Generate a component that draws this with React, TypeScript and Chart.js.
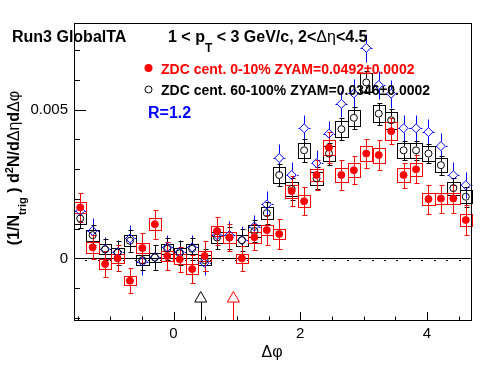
import React, { useEffect, useRef } from 'react';
import { Chart, registerables } from 'chart.js';

Chart.register(...registerables);

// Δφ bin centres (32 bins from -π/2 to 3π/2)
const DPHI = [
  -1.4726, -1.2763, -1.0799, -0.8836, -0.6872, -0.4909, -0.2945, -0.0982,
  0.0982, 0.2945, 0.4909, 0.6872, 0.8836, 1.0799, 1.2763, 1.4726,
  1.669, 1.8653, 2.0617, 2.258, 2.4544, 2.6507, 2.8471, 3.0434,
  3.2398, 3.4361, 3.6325, 3.8288, 4.0252, 4.2215, 4.4179, 4.6142,
];

// ZDC cent. 0-10% (red)
const RED = [
  0.00171, 0.00037, -0.00019, 0.0, -0.00075, 0.00035, 0.00115, 0.00008,
  -0.00003, -0.00036, 0.00008, 0.00092, 0.0007, 0.0, 0.00071, 0.00095,
  0.00082, 0.00226, 0.00192, 0.0028, 0.00372, 0.0028, 0.00296, 0.00352,
  0.00347, 0.00427, 0.0028, 0.00299, 0.00199, 0.00201, 0.00201, 0.00129,
];
const RED_STAT = [
  0.00049, 0.0004, 0.00044, 0.00044, 0.00042, 0.0005, 0.00049, 0.00047,
  0.00042, 0.00047, 0.0005, 0.00047, 0.00045, 0.00042, 0.00044, 0.00049,
  0.00049, 0.0005, 0.00047, 0.0005, 0.00051, 0.0005, 0.00047, 0.0005,
  0.0005, 0.00044, 0.00042, 0.00047, 0.00049, 0.00047, 0.00047, 0.0005,
];
const RED_SYST = [
  0.0002, 0.00018, 0.00017, 0.00016, 0.00016, 0.00017, 0.00019, 0.00016,
  0.00016, 0.00017, 0.00016, 0.00018, 0.00018, 0.00016, 0.00018, 0.00018,
  0.00018, 0.00022, 0.00021, 0.0002, 0.00026, 0.00022, 0.00023, 0.00025,
  0.00025, 0.0003, 0.00022, 0.00023, 0.0002, 0.0002, 0.0002, 0.00019,
];

// ZDC cent. 60-100% (black)
const BLACK = [
  0.00134, 0.00078, 0.0003, 0.00019, 0.00059, -0.00006, 0.00003, 0.00032,
  0.00017, 0.00032, -0.00006, 0.0007, 0.0007, 0.00061, 0.00092, 0.00152,
  0.0028, 0.00233, 0.00363, 0.00269, 0.00352, 0.00434, 0.00472, 0.00591,
  0.00486, 0.00464, 0.00363, 0.00363, 0.00352, 0.00313, 0.00236, 0.00207,
];
const BLACK_STAT = [
  0.00032, 0.00034, 0.00034, 0.0004, 0.00037, 0.00034, 0.00042, 0.00037,
  0.0004, 0.00037, 0.00037, 0.0004, 0.00037, 0.00037, 0.00037, 0.00037,
  0.00037, 0.00037, 0.00039, 0.00037, 0.00037, 0.00037, 0.00037, 0.00037,
  0.00037, 0.00037, 0.00032, 0.00032, 0.00032, 0.00032, 0.00034, 0.00034,
];
const BLACK_SYST = [
  0.0002, 0.00018, 0.00017, 0.00017, 0.00018, 0.00016, 0.00016, 0.00017,
  0.00017, 0.00017, 0.00016, 0.00018, 0.00018, 0.00018, 0.00019, 0.0002,
  0.00027, 0.00022, 0.00025, 0.00022, 0.00025, 0.00028, 0.00028, 0.00032,
  0.00028, 0.00028, 0.00025, 0.00025, 0.00025, 0.00024, 0.00022, 0.00021,
];

// R=1.2 (blue)
const BLUE = [
  0.00159, 0.00092, 0.00031, 0.00021, 0.00067, -0.00011, 0.00004, 0.00037,
  0.00021, 0.00037, -0.00015, 0.00078, 0.00078, 0.00061, 0.00107, 0.00181,
  0.00337, 0.0028, 0.00437, 0.0032, 0.00419, 0.00519, 0.00554, 0.00707,
  0.00582, 0.00553, 0.00437, 0.00437, 0.00424, 0.00377, 0.00279, 0.00246,
];
const BLUE_STAT = [
  0.0004, 0.00044, 0.0004, 0.0004, 0.00044, 0.00044, 0.00042, 0.0004,
  0.00042, 0.0004, 0.0004, 0.00044, 0.00047, 0.00047, 0.0004, 0.00044,
  0.00047, 0.00044, 0.00045, 0.00044, 0.00044, 0.00044, 0.00047, 0.00047,
  0.00047, 0.00047, 0.00044, 0.00044, 0.00044, 0.00044, 0.00044, 0.00044,
];

// minimum markers (triangles)
const MIN_BLACK_X = [0.43];
const MIN_RED_X = [0.945];
const MIN_Y = [-0.00135];

const X_TICKS = [0, 2, 4];
const Y_TICKS = [0, 0.005];
const Y_TICK_LABELS = ['0', '0.005'];

const X_MIN = -Math.PI / 2;
const X_MAX = (3 * Math.PI) / 2;
const Y_MIN = -0.002104;
const Y_MAX = 0.007906;
const BIN_HALF = Math.PI / 32;

const FONT = "'Liberation Sans', Arial, Helvetica, sans-serif";
const RED_C = '#ff0000';
const BLUE_C = '#0000ff';

function ln(ctx: CanvasRenderingContext2D, x1: number, y1: number, x2: number, y2: number) {
  ctx.beginPath();
  ctx.moveTo(x1, y1);
  ctx.lineTo(x2, y2);
  ctx.stroke();
}

const rootPlugin = {
  id: 'rootStyle',
  beforeDatasetsDraw(chart: any) {
    const { ctx, chartArea: a } = chart;
    const x = chart.scales.x;
    const y = chart.scales.y;
    ctx.save();
    ctx.lineWidth = 1;

    // zero line
    const y0 = Math.round(y.getPixelForValue(0)) + 0.5;
    ctx.strokeStyle = '#000';
    ln(ctx, a.left, y0, a.right, y0);
    ctx.fillStyle = '#000';
    for (let k = 1; k < 32; k++) {
      const xe = Math.round(x.getPixelForValue(X_MIN + k * 2 * BIN_HALF));
      ctx.fillRect(xe - 1, Math.round(y0) + 1, 2, 1);
    }

    const errs = (vals: number[], st: number[], color: string, r: number, cap: number, hbar: number) => {
      ctx.strokeStyle = color;
      for (let i = 0; i < vals.length; i++) {
        const px = x.getPixelForValue(DPHI[i]);
        const py = y.getPixelForValue(vals[i]);
        const top = Math.round(y.getPixelForValue(vals[i] + st[i])) + 0.5;
        const bot = Math.round(y.getPixelForValue(vals[i] - st[i])) + 0.5;
        const xx = Math.round(px) + 0.5;
        if (py - top > r) ln(ctx, xx, top, xx, py - r);
        if (bot - py > r) ln(ctx, xx, py + r, xx, bot);
        if (cap > 0) {
          ln(ctx, xx - cap, top, xx + cap + 1, top);
          ln(ctx, xx - cap, bot, xx + cap + 1, bot);
        }
        if (hbar > 0) {
          const yy = Math.round(py) + 0.5;
          ln(ctx, xx - hbar, yy, xx - r, yy);
          ln(ctx, xx + r, yy, xx + hbar, yy);
        }
      }
    };
    const boxes = (vals: number[], sy: number[], color: string) => {
      ctx.strokeStyle = color;
      for (let i = 0; i < vals.length; i++) {
        const x1 = Math.round(x.getPixelForValue(DPHI[i] - BIN_HALF));
        const x2 = Math.round(x.getPixelForValue(DPHI[i] + BIN_HALF));
        const y1 = Math.round(y.getPixelForValue(vals[i] + sy[i]));
        const y2 = Math.round(y.getPixelForValue(vals[i] - sy[i]));
        ctx.strokeRect(x1 + 0.5, y1 + 0.5, x2 - x1, y2 - y1);
      }
    };

    errs(BLUE, BLUE_STAT, BLUE_C, 4.5, 0, 6);
    boxes(BLACK, BLACK_SYST, '#000');
    errs(BLACK, BLACK_STAT, '#000', 4, 2, 0);
    boxes(RED, RED_SYST, RED_C);
    errs(RED, RED_STAT, RED_C, 4, 2, 0);

    // vertical lines under minimum triangles
    const triLine = (xs: number[], color: string) => {
      ctx.strokeStyle = color;
      for (let i = 0; i < xs.length; i++) {
        const xx = Math.round(x.getPixelForValue(xs[i])) + 0.5;
        const yb = y.getPixelForValue(MIN_Y[i]) + 3.5;
        ln(ctx, xx, yb, xx, a.bottom);
      }
    };
    triLine(MIN_BLACK_X, '#000');
    triLine(MIN_RED_X, RED_C);
    ctx.restore();
  },
  afterDraw(chart: any) {
    const { ctx, chartArea: a } = chart;
    const x = chart.scales.x;
    const y = chart.scales.y;
    ctx.save();
    ctx.strokeStyle = '#000';
    ctx.lineWidth = 1;

    // frame
    ctx.strokeRect(a.left + 0.5, a.top + 0.5, a.right - a.left - 1, a.bottom - a.top - 1);

    // y ticks (inward)
    for (let k = -2; k <= 7; k++) {
      const v = k * 0.001;
      const yy = Math.round(y.getPixelForValue(v)) + 0.5;
      const len = k % 5 === 0 ? 12 : 6;
      ln(ctx, a.left, yy, a.left + len, yy);
    }
    // x ticks (inward)
    for (let k = -3; k <= 9; k++) {
      const v = k * 0.5;
      const xx = Math.round(x.getPixelForValue(v)) + 0.5;
      const len = k % 4 === 0 ? 9 : 4.5;
      ln(ctx, xx, a.bottom, xx, a.bottom - len);
    }

    ctx.textBaseline = 'alphabetic';
    ctx.textAlign = 'left';

    // helper for rich text pieces
    type Piece = { t: string; f: string; dy?: number; c?: string };
    const drawPieces = (pieces: Piece[], x0: number, y0: number) => {
      let cx = x0;
      for (const p of pieces) {
        ctx.font = p.f;
        if (p.c) ctx.fillStyle = p.c;
        ctx.fillText(p.t, cx, y0 + (p.dy || 0));
        cx += ctx.measureText(p.t).width;
      }
    };
    const widthOf = (pieces: Piece[]) => {
      let w = 0;
      for (const p of pieces) {
        ctx.font = p.f;
        w += ctx.measureText(p.t).width;
      }
      return w;
    };

    const B16 = `bold 16px ${FONT}`;
    const B12 = `bold 12px ${FONT}`;
    const N16 = `16px ${FONT}`;
    const B14 = `bold 14px ${FONT}`;

    ctx.fillStyle = '#000';
    ctx.font = B16;
    ctx.fillText('Run3 GlobalTA', 12, 42);

    drawPieces(
      [
        { t: '1 < p', f: B16, c: '#000' },
        { t: 'T', f: B12, dy: 10 },
        { t: ' < 3 GeV/c, 2<', f: B16 },
        { t: 'Δη', f: N16 },
        { t: '<4.5', f: B16 },
      ],
      168,
      42
    );

    // legend
    ctx.fillStyle = RED_C;
    ctx.beginPath();
    ctx.arc(148.5, 68, 4, 0, Math.PI * 2);
    ctx.fill();
    ctx.font = B14;
    ctx.fillText('ZDC cent. 0-10% ZYAM=0.0492\u00b10.0002', 161, 73.5);

    ctx.strokeStyle = '#000';
    ctx.beginPath();
    ctx.arc(148.5, 89.5, 3.5, 0, Math.PI * 2);
    ctx.stroke();
    ctx.fillStyle = '#000';
    ctx.fillText('ZDC cent. 60-100% ZYAM=0.0346\u00b10.0002', 161, 95);

    ctx.fillStyle = BLUE_C;
    ctx.font = B16;
    ctx.fillText('R=1.2', 148, 118);

    // x title
    ctx.fillStyle = '#000';
    ctx.font = N16;
    ctx.textAlign = 'center';
    ctx.fillText('Δφ', 272, 357);
    ctx.textAlign = 'left';

    // y title (rotated)
    const B11 = `bold 11px ${FONT}`;
    const yPieces: Piece[] = [
      { t: '(1/N', f: B16 },
      { t: 'trig', f: B11, dy: 7 },
      { t: ' )', f: B16 },
      { t: ' d', f: B16 },
      { t: '2', f: B11, dy: -6 },
      { t: 'N/d', f: B16 },
      { t: 'Δη', f: N16 },
      { t: 'd', f: B16 },
      { t: 'Δφ', f: N16 },
    ];
    const tw = widthOf(yPieces);
    ctx.translate(18.5, 168);
    ctx.rotate(-Math.PI / 2);
    drawPieces(yPieces, -tw / 2, 0);
    ctx.restore();
  },
};

export default function App() {
  const ref = useRef<HTMLCanvasElement | null>(null);
  useEffect(() => {
    if (!ref.current) return;
    const pts = (xs: number[], ys: number[]) => ys.map((v, i) => ({ x: xs[i], y: v }));
    const chart = new Chart(ref.current, {
      type: 'scatter',
      data: {
        datasets: [
          {
            data: pts(DPHI, RED),
            pointStyle: 'circle',
            pointRadius: 3.5,
            pointBorderWidth: 1,
            pointBackgroundColor: RED_C,
            pointBorderColor: RED_C,
            showLine: false,
          },
          {
            data: pts(MIN_BLACK_X, MIN_Y),
            pointStyle: 'triangle',
            pointRadius: 7,
            pointBorderWidth: 1,
            pointBackgroundColor: 'rgba(0,0,0,0)',
            pointBorderColor: '#000',
            showLine: false,
          },
          {
            data: pts(MIN_RED_X, MIN_Y),
            pointStyle: 'triangle',
            pointRadius: 7,
            pointBorderWidth: 1,
            pointBackgroundColor: 'rgba(0,0,0,0)',
            pointBorderColor: RED_C,
            showLine: false,
          },
          {
            data: pts(DPHI, BLACK),
            pointStyle: 'circle',
            pointRadius: 3.5,
            pointBorderWidth: 1,
            pointBackgroundColor: 'rgba(0,0,0,0)',
            pointBorderColor: '#000',
            showLine: false,
          },
          {
            data: pts(DPHI, BLUE),
            pointStyle: 'rectRot',
            pointRadius: 4.5,
            pointBorderWidth: 1,
            pointBackgroundColor: 'rgba(0,0,0,0)',
            pointBorderColor: BLUE_C,
            showLine: false,
          },
        ],
      },
      options: {
        responsive: false,
        animation: false,
        events: [],
        layout: { padding: { top: 23, right: 24, left: 0, bottom: 0 } },
        plugins: { legend: { display: false }, tooltip: { enabled: false }, title: { display: false } },
        scales: {
          x: {
            type: 'linear',
            min: X_MIN,
            max: X_MAX,
            grid: { display: false, drawTicks: false },
            border: { display: false },
            afterBuildTicks: (s: any) => {
              s.ticks = X_TICKS.map((v) => ({ value: v }));
            },
            afterFit: (s: any) => {
              s.height = 53;
            },
            ticks: {
              font: { family: FONT, size: 15 },
              color: '#000',
              padding: 4,
              maxRotation: 0,
              autoSkip: false,
              callback: (v: any) => String(v),
            },
          },
          y: {
            type: 'linear',
            min: Y_MIN,
            max: Y_MAX,
            grid: { display: false, drawTicks: false },
            border: { display: false },
            afterBuildTicks: (s: any) => {
              s.ticks = Y_TICKS.map((v) => ({ value: v }));
            },
            afterFit: (s: any) => {
              s.width = 74;
            },
            ticks: {
              font: { family: FONT, size: 15 },
              color: '#000',
              padding: 6,
              autoSkip: false,
              callback: (v: any) => Y_TICK_LABELS[Y_TICKS.indexOf(Number(v))] ?? '',
            },
          },
        },
      },
      plugins: [rootPlugin],
    } as any);
    return () => chart.destroy();
  }, []);
  return (
    <div style={{ position: 'absolute', left: 0, top: 0, width: 496, height: 374, background: '#fff' }}>
      <canvas ref={ref} width={496} height={374} style={{ display: 'block' }} />
    </div>
  );
}
